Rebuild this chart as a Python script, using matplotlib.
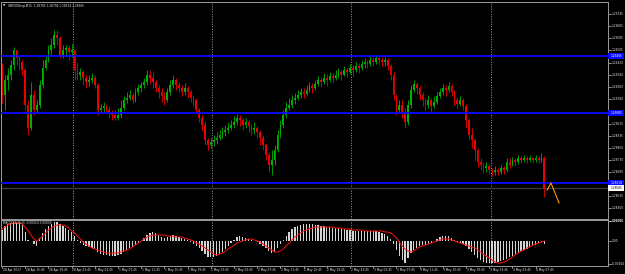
import matplotlib
matplotlib.use("Agg")
import matplotlib.pyplot as plt
from matplotlib.patches import Rectangle
from matplotlib import font_manager
import numpy as np

# ---------------- data ----------------
symbol = "GBPUSDecp,M15"
base_price = 1.28            # prices below are given in pips above this base

first_open_pips = 137.2
close_pips = [
    120.5,130.5,133.9,140.5,150.6,145.2,142.5,137.2,113.9,98.5,
    120.5,110.5,113.9,127.2,138.5,143.9,150.6,153.9,160.6,158.6,
    147.2,150.6,151.9,149.2,150.6,137.2,133.9,135.9,131.9,129.2,
    130.5,131.9,127.2,110.5,111.9,113.2,110.5,109.2,107.2,105.2,
    107.2,111.9,117.2,118.5,120.5,117.2,122.5,125.2,127.2,129.2,
    133.9,131.9,129.2,125.2,122.5,119.9,117.2,122.5,127.2,130.5,
    127.2,125.2,122.5,125.2,122.5,118.5,117.2,110.5,105.2,100.5,
    90.5,87.2,89.2,90.5,91.9,93.9,95.9,97.2,98.5,100.5,
    102.5,105.2,103.9,100.5,102.5,99.9,97.2,98.5,95.9,91.9,
    87.2,80.5,73.9,77.2,83.9,93.9,100.5,107.2,111.9,113.9,
    117.2,118.5,120.5,122.5,121.2,123.9,126.5,125.2,127.9,130.5,
    129.2,131.9,130.5,133.2,131.9,133.9,135.9,133.9,137.2,135.9,
    138.5,137.2,139.9,138.5,141.2,142.5,141.2,143.9,142.5,145.2,
    143.9,142.5,143.9,139.9,133.9,120.5,110.5,113.9,109.2,102.5,
    113.9,123.9,127.9,125.2,120.5,117.2,113.9,117.2,113.2,115.9,
    119.9,122.5,125.2,123.9,126.5,122.5,117.2,114.5,117.2,113.2,
    103.9,93.9,90.5,83.9,75.9,73.9,71.9,73.2,70.5,69.2,
    70.5,69.2,71.9,70.5,75.9,73.9,77.2,75.9,78.5,77.2,
    78.5,77.2,78.5,77.2,78.5,77.2,78.5,58.5,
]
high_pips = [
    141.9,133.9,138.5,143.9,152.6,150.6,147.2,143.9,138.5,117.2,
    129.2,123.9,117.2,130.5,143.9,147.2,153.9,158.6,163.9,163.9,
    159.9,153.9,153.9,153.9,154.6,150.6,142.5,138.5,137.2,133.9,
    133.9,135.2,133.9,128.5,114.5,115.9,114.5,113.2,110.5,110.5,
    111.9,117.2,119.9,122.5,123.9,121.9,125.2,127.9,129.2,131.9,
    137.2,137.2,135.9,130.5,127.2,125.2,122.5,125.2,130.5,133.9,
    131.9,129.2,127.2,128.5,126.5,123.9,120.5,118.5,111.9,107.2,
    102.5,91.9,91.9,93.9,95.9,97.2,99.2,100.5,102.5,103.9,
    106.5,107.9,107.2,105.2,105.2,103.9,101.2,102.5,99.9,97.2,
    93.9,88.5,82.5,83.9,87.2,97.2,103.9,110.5,115.9,118.5,
    120.5,121.9,123.9,125.2,125.2,127.2,129.2,128.5,130.5,133.2,
    132.5,135.2,134.5,135.9,135.2,137.2,138.5,137.2,139.9,139.2,
    141.2,140.5,142.5,141.9,143.9,145.2,143.9,146.6,145.9,147.2,
    146.6,145.9,145.9,145.2,141.2,135.9,120.5,117.2,117.2,111.9,
    117.2,127.2,130.5,129.2,126.5,122.5,118.5,120.5,118.5,119.9,
    122.5,125.2,127.9,127.2,129.2,127.9,123.9,118.5,119.9,118.5,
    114.5,105.2,98.5,91.9,85.2,78.5,75.9,75.9,74.5,71.9,
    73.2,71.9,73.9,73.2,78.5,78.5,79.2,78.5,80.5,79.9,
    80.5,79.9,80.5,79.2,80.5,79.9,81.9,79.9,
]
low_pips = [
    115.2,110.5,123.9,130.5,137.2,140.5,137.2,133.9,110.5,93.9,
    97.2,107.2,108.5,111.9,125.2,137.2,142.5,147.2,151.9,153.9,
    145.2,145.2,146.6,143.9,145.9,130.5,130.5,130.5,127.2,125.2,
    126.5,128.5,125.2,107.2,108.5,109.2,108.5,105.2,103.9,103.9,
    103.9,105.2,110.5,115.2,117.2,115.2,115.9,120.5,122.5,125.2,
    127.2,127.9,125.2,122.5,118.5,115.9,113.9,115.9,120.5,125.2,
    123.9,122.5,119.9,120.5,118.5,115.9,113.2,108.5,102.5,97.2,
    87.2,83.9,85.2,86.5,87.9,90.5,91.9,93.2,95.2,97.2,
    98.5,100.5,99.9,97.2,98.5,95.9,93.9,94.5,91.9,87.2,
    83.9,77.2,69.2,67.2,73.9,82.5,91.9,98.5,105.2,110.5,
    111.9,114.5,117.2,118.5,118.5,120.5,122.5,121.9,123.9,126.5,
    125.9,127.9,126.5,129.2,128.5,130.5,131.9,130.5,133.2,132.5,
    134.5,133.2,135.9,135.2,137.2,138.5,138.5,139.9,139.9,141.2,
    141.2,139.9,139.9,137.2,130.5,117.2,107.2,109.2,105.2,98.5,
    100.5,111.9,122.5,121.2,117.2,113.2,110.5,111.9,109.2,111.9,
    114.5,118.5,120.5,119.9,122.5,119.9,113.9,111.9,113.2,110.5,
    98.5,90.5,85.2,77.2,72.5,70.5,68.5,69.2,67.9,66.5,
    67.2,67.2,67.9,67.9,69.2,71.9,73.2,73.2,74.5,75.2,
    75.9,75.2,75.9,75.2,75.9,75.2,75.9,52.4,
]

# MACD(12,26,9) in points (1e-5)
macd_hist_pts = [
    88,120,136,144,152,152,144,128,72,8,
    0,-24,-40,24,64,96,120,136,152,152,
    136,120,104,88,72,40,8,-16,-32,-40,
    -48,-56,-64,-88,-104,-112,-112,-120,-120,-120,
    -112,-104,-88,-72,-56,-48,-32,-16,0,24,
    48,64,72,64,48,32,24,32,40,48,
    40,32,24,16,8,-8,-24,-40,-56,-80,
    -104,-128,-128,-128,-120,-104,-88,-64,-40,-16,
    8,32,40,32,24,16,8,0,-8,-24,
    -40,-56,-80,-96,-88,-56,-24,8,40,72,
    96,112,120,128,136,136,136,136,128,128,
    120,120,112,112,104,104,104,96,96,88,
    88,80,80,80,80,80,80,80,80,80,
    72,64,56,40,16,-24,-72,-120,-152,-176,
    -136,-96,-72,-56,-40,-32,-32,-24,-16,0,
    16,32,40,40,40,24,8,-8,-16,-24,
    -40,-64,-88,-112,-136,-152,-168,-176,-176,-176,
    -176,-168,-160,-152,-144,-128,-120,-104,-96,-80,
    -72,-64,-48,-40,-32,-16,-8,-24,
]
macd_signal_pts = [
    96,112,128,136,144,144,144,136,112,80,
    48,16,0,16,40,64,88,104,120,128,
    128,128,120,104,80,64,40,16,-8,-24,
    -40,-56,-64,-72,-80,-88,-96,-96,-96,-96,
    -96,-88,-80,-72,-64,-48,-32,-16,0,16,
    32,40,48,48,48,48,48,40,40,40,
    32,32,32,24,16,8,0,-16,-24,-40,
    -56,-72,-88,-104,-112,-104,-96,-80,-64,-48,
    -32,-16,-8,0,8,16,16,8,0,-8,
    -24,-40,-56,-72,-88,-88,-80,-64,-40,-16,
    8,32,48,64,80,88,96,104,112,112,
    112,112,112,112,112,104,104,104,96,96,
    96,88,88,88,88,80,80,80,80,80,
    80,80,72,72,64,48,24,-8,-40,-64,
    -80,-88,-80,-64,-48,-40,-32,-24,-16,-8,
    0,8,16,16,16,8,0,-8,-16,-24,
    -32,-40,-48,-56,-72,-88,-104,-120,-136,-152,
    -168,-176,-176,-168,-160,-144,-128,-112,-96,-80,
    -72,-56,-48,-32,-24,-16,-8,0,
]

levels = [1.29465, 1.29085, 1.28618]               # horizontal lines
proj_x = [188.0, 189.3, 192.1]                       # user trend line (bar index)
proj_price = [1.28572, 1.28618, 1.28485]

price_tick_labels = ["1.29745","1.29665","1.29585","1.29505","1.29420","1.29340",
                     "1.29260","1.29180","1.29095","1.29015","1.28935","1.28850",
                     "1.28770","1.28690","1.28610","1.28530","1.28450","1.28365"]
macd_tick_values = [0.00160, 0.0, -0.00184]
macd_tick_labels = ["0.00160", "0.00", "-0.00184"]

time_labels = ["28 Apr 2017","28 Apr 15:45","28 Apr 19:45","28 Apr 23:45",
               "1 May 03:45","1 May 07:45","1 May 11:45","1 May 15:45","1 May 19:45","1 May 23:45",
               "2 May 03:45","2 May 07:45","2 May 11:45","2 May 15:45","2 May 19:45","2 May 23:45",
               "3 May 03:45","3 May 07:45","3 May 11:45","3 May 15:45","3 May 19:45","3 May 23:45",
               "4 May 03:45","4 May 07:45"]
label_step = 8                      # bars between time labels
day_start_idx = [25, 73, 121, 169]  # first bar of each new day

# ---------------- derived ----------------
close = base_price + np.array(close_pips) / 1e4
high = base_price + np.array(high_pips) / 1e4
low = base_price + np.array(low_pips) / 1e4
opn = np.concatenate([[base_price + first_open_pips / 1e4], close[:-1]])
hist = np.array(macd_hist_pts) / 1e5
signal = np.array(macd_signal_pts) / 1e5
n = len(close)
x = np.arange(n)

# ---------------- fonts ----------------
_names = {f.name for f in font_manager.fontManager.ttflist}
if 'Liberation Sans Narrow' in _names:
    FAM, FS = ['Liberation Sans Narrow', 'DejaVu Sans'], 2.7
elif 'DejaVu Sans Condensed' in _names:
    FAM, FS = ['DejaVu Sans Condensed', 'DejaVu Sans'], 2.3
else:
    FAM, FS = ['DejaVu Sans'], 2.1
plt.rcParams['font.family'] = FAM

# ---------------- layout ----------------
W, H = 625, 274
BAR_PX, FIRST_PX = 2.9, 2.0
TXT = '#e8e8e8'
fig = plt.figure(figsize=(W / 100, H / 100), dpi=100, facecolor='black')

def box(l, t, r, b):
    return [l / W, 1 - b / H, (r - l) / W, (b - t) / H]

ax = fig.add_axes(box(1, 2, 608, 219))
ax2 = fig.add_axes(box(1, 220, 608, 266))
xl = ((1 - FIRST_PX) / BAR_PX, (608 - FIRST_PX) / BAR_PX)
for a in (ax, ax2):
    a.set_facecolor('black')
    a.set_xlim(*xl)
    a.set_xticks([]); a.set_yticks([])
    for s in a.spines.values():
        s.set_color('#9a9a9a'); s.set_linewidth(0.7)

PPX = 0.0000667  # price per pixel
ax.set_ylim(base_price + 37.83 / 1e4, base_price + 182.57 / 1e4)
ax2.set_ylim(-0.00200, 0.00168)

# day separators
for d in day_start_idx:
    for a in (ax, ax2):
        a.axvline(d - 0.5, color='#a0a0a0', lw=0.7, ls=(0, (1, 1.6)), zorder=1)

# bid line
ax.axhline(close[-1], color='#3a3a3a', lw=1.0, zorder=1)

# candles
up = close >= opn
cols = np.where(up, '#00b000', '#ee0000')
lo = np.minimum.reduce([low, opn, close])
hi = np.maximum.reduce([high, opn, close])
ax.vlines(x, lo, hi, colors=cols, lw=0.6, zorder=2)
body = close - opn
body = np.where(np.abs(body) < 0.3 * PPX, 0.3 * PPX, body)
ax.bar(x, body, bottom=opn, width=0.62, color=cols, linewidth=0, zorder=2)

# horizontal levels
for lv in levels:
    ax.axhline(lv, color='#0a0aff', lw=1.3, zorder=3)

# projection line
ax.plot(proj_x, proj_price, color='#ff9a00', lw=0.8, zorder=4, clip_on=False)

# price scale labels
ytr = ax.get_yaxis_transform()
marks = list(levels) + [close[-1]]
for lab in price_tick_labels:
    p = float(lab)
    if any(abs(p - m) < 5 * PPX for m in marks):
        continue
    ax.plot([1, 1 + 3 / 607], [p, p], transform=ytr, color='#c0c0c0', lw=0.5, clip_on=False)
    ax.text(1 + 4 / 607, p, lab, transform=ytr, fontsize=FS, color=TXT,
            va='center', ha='left', clip_on=False)
for lv in levels:
    ax.add_patch(Rectangle((1, lv - 3 * PPX), 16 / 607, 6 * PPX, transform=ytr,
                           facecolor='#0a0aff', edgecolor='none', clip_on=False, zorder=5))
    ax.text(1 + 3 / 607, lv, f"{lv:.5f}", transform=ytr, fontsize=FS, color='white',
            va='center', ha='left', clip_on=False, zorder=6)
ax.add_patch(Rectangle((1, close[-1] - 3 * PPX), 16 / 607, 6 * PPX, transform=ytr,
                       facecolor='white', edgecolor='none', clip_on=False, zorder=5))
ax.text(1 + 3 / 607, close[-1], f"{close[-1]:.5f}", transform=ytr, fontsize=FS,
        color='black', va='center', ha='left', clip_on=False, zorder=6)

# title
fig.text(3 / W, 1 - 5.5 / H, "\u25BC", fontsize=FS, color=TXT, va='center', ha='left',
         family='DejaVu Sans')
fig.text(8 / W, 1 - 5.5 / H,
         f"{symbol}  {opn[-1]:.5f} {high[-1]:.5f} {low[-1]:.5f} {close[-1]:.5f}",
         fontsize=FS, color=TXT, va='center', ha='left')

# MACD panel
ax2.bar(x, hist, width=0.45, color='#d4d4d4', linewidth=0, zorder=2)
ax2.plot(x, signal, color='#ff1010', lw=0.7, zorder=3)
y2tr = ax2.get_yaxis_transform()
for v, lab in zip(macd_tick_values, macd_tick_labels):
    ax2.plot([1, 1 + 3 / 607], [v, v], transform=y2tr, color='#c0c0c0', lw=0.5, clip_on=False)
    ax2.text(1 + 4 / 607, v, lab, transform=y2tr, fontsize=FS, color=TXT,
             va='center', ha='left', clip_on=False)
ax2.text(2 / 607, 1 - 3 / 46, f"MACD(12,26,9) {hist[-1]:.5f} {signal[-1]:.5f}",
         transform=ax2.transAxes, fontsize=FS, color=TXT, va='center', ha='left', zorder=6)

# time labels
x2tr = ax2.get_xaxis_transform()
for k, lab in enumerate(time_labels):
    xi = k * label_step
    ax2.plot([xi, xi], [0, -2 / 46], transform=x2tr, color='#c0c0c0', lw=0.5, clip_on=False)
    ax2.text(xi + 0.2, -4.5 / 46, lab, transform=x2tr, fontsize=FS, color=TXT,
             va='center', ha='left', clip_on=False)

fig.savefig("out.png", dpi=100, facecolor='black')
